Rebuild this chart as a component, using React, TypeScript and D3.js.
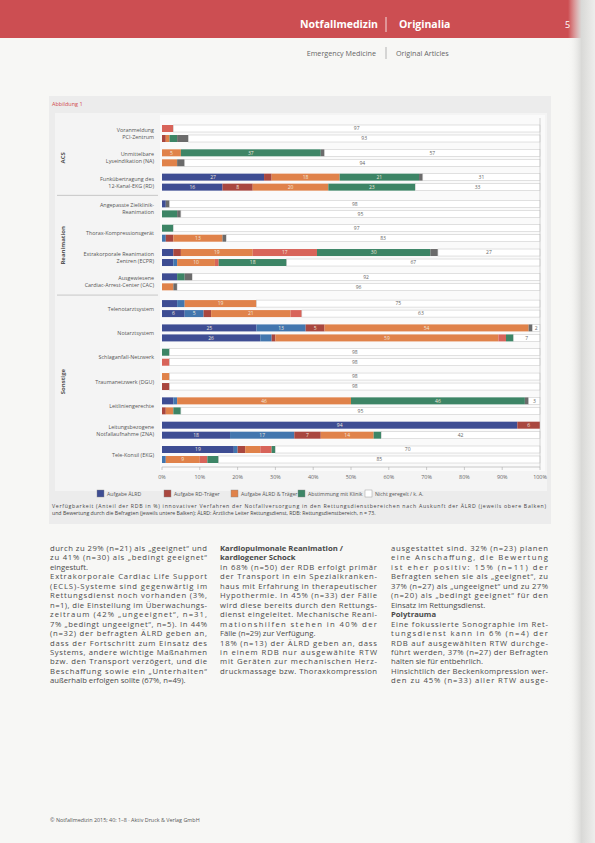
import React from "react";
import * as d3 from "d3";

// ---------- DATA ----------
const groups = ["ACS", "Reanimation", "Sonstige"];
const categories = [
  ["Voranmeldung", "PCI-Zentrum"],
  ["Unmittelbare", "Lyseindikation (NA)"],
  ["Funkübertragung des", "12-Kanal-EKG (RD)"],
  ["Angepasste Zielklinik-", "Reanimation"],
  ["Thorax-Kompressionsgerät"],
  ["Extrakorporale Reanimation", "Zentren (ECPR)"],
  ["Ausgewiesene", "Cardiac-Arrest-Center (CAC)"],
  ["Telenotarztsystem"],
  ["Notarztsystem"],
  ["Schlaganfall-Netzwerk"],
  ["Traumanetzwerk (DGU)"],
  ["Leitliniengerechte"],
  ["Leitungsbezogene", "Notfallaufnahme (ZNA)"],
  ["Tele-Konsil (EKG)"],
];
const categoryGroup = [0, 0, 0, 1, 1, 1, 1, 2, 2, 2, 2, 2, 2, 2];

// bars: two per category (upper, lower)
const seriesKeys = ["s1", "s2", "s3", "s4", "s5", "s6", "s7", "s8"];
const s1 = [0, 0, 0, 0, 27, 16, 1, 0, 0, 0, 3, 3, 4, 0, 4, 6, 25, 26, 0, 0, 0, 0, 3, 0, 94, 18, 19, 0];
const s2 = [0, 0, 0, 0, 0, 0, 0, 0, 0, 1, 0, 1, 0, 0, 2, 5, 13, 3, 0, 0, 0, 0, 1, 0, 0, 17, 1, 1];
const s3 = [0, 1, 0, 0, 2, 8, 0, 0, 0, 2, 2, 0, 0, 0, 0, 2, 5, 1, 0, 0, 0, 2, 0, 1, 6, 7, 2, 0];
const s4 = [0, 1, 5, 4, 18, 20, 0, 0, 0, 13, 19, 10, 0, 3, 19, 21, 54, 59, 0, 0, 2, 0, 46, 2, 0, 14, 4, 9];
const s5 = [3, 0, 0, 0, 0, 0, 0, 0, 0, 0, 17, 1, 0, 0, 0, 3, 0, 2, 0, 2, 0, 0, 0, 0, 0, 0, 3, 2];
const s6 = [0, 2, 37, 0, 21, 23, 0, 4, 3, 0, 30, 18, 2, 0, 0, 0, 0, 2, 2, 0, 0, 0, 46, 2, 0, 2, 1, 3];
const s7 = [0, 3, 1, 2, 1, 0, 1, 1, 0, 1, 2, 0, 2, 1, 0, 0, 1, 0, 0, 0, 0, 0, 1, 0, 0, 0, 0, 0];
const s8 = [97, 93, 57, 94, 31, 33, 98, 95, 97, 83, 27, 67, 92, 96, 75, 63, 2, 7, 98, 98, 98, 98, 3, 95, 0, 42, 70, 85];
const seriesValues = { s1, s2, s3, s4, s5, s6, s7, s8 };

const legendLabels = [
  "Aufgabe ÄLRD",
  "Aufgabe RD-Träger",
  "Aufgabe ÄLRD & Träger",
  "Abstimmung mit Klinik",
  "Nicht geregelt / k. A.",
];
const legendKeys = ["s1", "s3", "s4", "s6", "s8"];
const xTicks = [0, 10, 20, 30, 40, 50, 60, 70, 80, 90, 100];

// ---------- STYLE ----------
const colors = {
  s1: "#3e4d93",
  s2: "#4276ae",
  s3: "#a9473f",
  s4: "#e0824a",
  s5: "#d8645a",
  s6: "#3d8566",
  s7: "#6b6b6b",
  s8: "#ffffff",
};

// body text: [text, isParagraphEnd, bold]
type Line = [string, boolean, boolean];
const col1: Line[] = [
  ["durch zu 29% (n=21) als „geeignet“ und", false, false],
  ["zu 41% (n=30) als „bedingt geeignet“", false, false],
  ["eingestuft.", true, false],
  ["Extrakorporale Cardiac Life Support", false, false],
  ["(ECLS)-Systeme sind gegenwärtig im", false, false],
  ["Rettungsdienst noch vorhanden (3%,", false, false],
  ["n=1), die Einstellung im Überwachungs-", false, false],
  ["zeitraum (42% „ungeeignet“, n=31,", false, false],
  ["7% „bedingt ungeeignet“, n=5). In 44%", false, false],
  ["(n=32) der befragten ÄLRD geben an,", false, false],
  ["dass der Fortschritt zum Einsatz des", false, false],
  ["Systems, andere wichtige Maßnahmen", false, false],
  ["bzw. den Transport verzögert, und die", false, false],
  ["Beschaffung sowie ein „Unterhalten“", false, false],
  ["außerhalb erfolgen sollte (67%, n=49).", true, false],
];
const col2: Line[] = [
  ["Kardiopulmonale Reanimation /", true, true],
  ["kardiogener Schock", true, true],
  ["In 68% (n=50) der RDB erfolgt primär", false, false],
  ["der Transport in ein Spezialkranken-", false, false],
  ["haus mit Erfahrung in therapeutischer", false, false],
  ["Hypothermie. In 45% (n=33) der Fälle", false, false],
  ["wird diese bereits durch den Rettungs-", false, false],
  ["dienst eingeleitet. Mechanische Reani-", false, false],
  ["mationshilfen stehen in 40% der", false, false],
  ["Fälle (n=29) zur Verfügung.", true, false],
  ["18% (n=13) der ÄLRD geben an, dass", false, false],
  ["in einem RDB nur ausgewählte RTW", false, false],
  ["mit Geräten zur mechanischen Herz-", false, false],
  ["druckmassage bzw. Thoraxkompression", false, false],
];
const col3: Line[] = [
  ["ausgestattet sind. 32% (n=23) planen", false, false],
  ["eine Anschaffung, die Bewertung", false, false],
  ["ist eher positiv: 15% (n=11) der", false, false],
  ["Befragten sehen sie als „geeignet“, zu", false, false],
  ["37% (n=27) als „ungeeignet“ und zu 27%", false, false],
  ["(n=20) als „bedingt geeignet“ für den", false, false],
  ["Einsatz im Rettungsdienst.", true, false],
  ["Polytrauma", true, true],
  ["Eine fokussierte Sonographie im Ret-", false, false],
  ["tungsdienst kann in 6% (n=4) der", false, false],
  ["RDB auf ausgewählten RTW durchge-", false, false],
  ["führt werden, 37% (n=27) der Befragten", false, false],
  ["halten sie für entbehrlich.", true, false],
  ["Hinsichtlich der Beckenkompression wer-", false, false],
  ["den zu 45% (n=33) aller RTW ausge-", false, false],
];

export default function App() {
  const W = 595;
  const H = 843;
  const x = d3.scaleLinear().domain([0, 100]).range([162, 540]);
  const slotOf = (i: number) => i + categoryGroup[i] * 0.1;
  const y = d3.scaleLinear().domain([0, 13.2]).range([125, 446]);
  const barH = 7;
  const barGap = 3;

  const nBars = categories.length * 2;
  const barRows = d3.range(nBars).map((b) => {
    const row: any = { bar: b };
    seriesKeys.forEach((k) => (row[k] = (seriesValues as any)[k][b]));
    return row;
  });
  const stacked = d3.stack().keys(seriesKeys)(barRows);
  const barY = (b: number) => {
    const cat = Math.floor(b / 2);
    return y(slotOf(cat)) + (b % 2) * (barH + barGap);
  };

  const font = "'Open Sans', 'DejaVu Sans', sans-serif";
  const bodyFs = 7.7;
  const lh = 9.45;
  const colW = 157;

  const groupRanges = groups.map((g, gi) => {
    const idx = categoryGroup.map((c, i) => (c === gi ? i : -1)).filter((i) => i >= 0);
    return { name: g, first: idx[0], last: idx[idx.length - 1] };
  });

  const renderCol = (lines: Line[], x0: number, key: string) =>
    lines.map(([t, end, bold], i) => (
      <text
        key={key + i}
        x={x0}
        y={551 + i * lh}
        fontSize={bodyFs}
        fill="#4a4a4a"
        fontWeight={bold ? "bold" : "normal"}
        {...(!end ? { textLength: colW, lengthAdjust: "spacing" } : {})}
      >
        {t}
      </text>
    ));

  return (
    <svg
      width={W}
      height={H}
      style={{ position: "absolute", left: 0, top: 0, background: "#f6f6f4" }}
      fontFamily={font}
    >
      <defs>
        <linearGradient id="edge" x1="0" x2="1" y1="0" y2="0">
          <stop offset="0" stopColor="#f6f6f4" stopOpacity="0" />
          <stop offset="0.5" stopColor="#d9d9d7" />
          <stop offset="1" stopColor="#eeeeec" />
        </linearGradient>
      </defs>
      <rect x={0} y={0} width={W} height={H} fill="#f7f7f5" />
      {/* header band */}
      <rect x={0} y={0} width={W} height={38} fill="#cc4e52" />
      <text x={300} y={28} fill="#fff" fontSize={10.5} fontWeight="bold">Notfallmedizin</text>
      <line x1={386} x2={386} y1={17} y2={32} stroke="#fff" strokeWidth={0.8} />
      <text x={399} y={28} fill="#fff" fontSize={10.5} fontWeight="bold">Originalia</text>
      <text x={565} y={28} fill="#fff" fontSize={9}>5</text>
      <text x={376} y={56} fill="#666" fontSize={7.2} textAnchor="end">Emergency Medicine</text>
      <line x1={386} x2={386} y1={47} y2={59} stroke="#888" strokeWidth={0.6} />
      <text x={396} y={56} fill="#666" fontSize={7.2}>Original Articles</text>

      {/* figure box */}
      <rect x={49} y={96} width={502} height={428} fill="#ececec" />
      <text x={52} y={106} fill="#d1494c" fontSize={5.5}>Abbildung 1</text>
      <rect x={55} y={113} width={492} height={378} fill="#f4f4f4" />
      <rect x={160} y={115} width={385} height={356} fill="#fafafa" />

      {/* group labels and separators */}
      {groupRanges.map((g, gi) => {
        const top = y(slotOf(g.first)) - 4;
        const bot = y(slotOf(g.last)) + 2 * barH + barGap + 4;
        const mid = (top + bot) / 2;
        return (
          <g key={g.name}>
            <text
              transform={`translate(65,${mid}) rotate(-90)`}
              textAnchor="middle"
              fontSize={6}
              fontWeight="bold"
              fill="#555"
            >
              {g.name}
            </text>
            {gi > 0 && (
              <line x1={57} x2={158} y1={top - 1} y2={top - 1} stroke="#aaa" strokeWidth={0.6} />
            )}
          </g>
        );
      })}

      {/* category labels */}
      {categories.map((lines, i) => {
        const cy = y(slotOf(i)) + barH + barGap / 2;
        const start = cy - ((lines.length - 1) * 6.8) / 2 + 2;
        return (
          <text key={i} x={154} fontSize={5.4} fill="#555" textAnchor="end">
            {lines.map((l, j) => (
              <tspan key={j} x={154} y={start + j * 6.8}>
                {l}
              </tspan>
            ))}
          </text>
        );
      })}

      {/* bars */}
      {stacked.map((layer) => (
        <g key={layer.key}>
          {layer.map((d, b) => {
            const w = x(d[1]) - x(d[0]);
            if (w <= 0) return null;
            const isWhite = layer.key === "s8";
            const val = d[1] - d[0];
            return (
              <g key={b}>
                <rect
                  x={x(d[0])}
                  y={barY(b)}
                  width={w}
                  height={barH}
                  fill={(colors as any)[layer.key]}
                  stroke={isWhite ? "#c4c4c4" : "none"}
                  strokeWidth={isWhite ? 0.5 : 0}
                />
                {((isWhite && val >= 2) || (!isWhite && val >= 5)) && (
                  <text
                    x={(x(d[0]) + x(d[1])) / 2}
                    y={barY(b) + barH - 1.6}
                    fontSize={5}
                    textAnchor="middle"
                    fill={isWhite ? "#666" : "#f1e6dc"}
                  >
                    {val}
                  </text>
                )}
              </g>
            );
          })}
        </g>
      ))}

      {/* axis */}
      <line x1={x(0)} x2={x(100)} y1={467} y2={467} stroke="#aaa" strokeWidth={0.6} />
      <line x1={x(100)} x2={x(100)} y1={118} y2={467} stroke="#bbb" strokeWidth={0.6} />
      {xTicks.map((t) => (
        <g key={t}>
          <line x1={x(t)} x2={x(t)} y1={467} y2={470} stroke="#aaa" strokeWidth={0.6} />
          <text x={x(t)} y={479} fontSize={5.4} textAnchor="middle" fill="#666">
            {t}%
          </text>
        </g>
      ))}

      {/* legend */}
      {legendLabels.map((l, i) => {
        const lx = 97 + i * 67;
        return (
          <g key={l}>
            <rect
              x={lx}
              y={490}
              width={7}
              height={7}
              fill={(colors as any)[legendKeys[i]]}
              stroke="#888"
              strokeWidth={0.4}
            />
            <text x={lx + 10} y={496} fontSize={5.2} fill="#555">
              {l}
            </text>
          </g>
        );
      })}

      {/* caption */}
      <text x={52} y={508} fontSize={5.2} fill="#444" textLength={494} lengthAdjust="spacing">
        Verfügbarkeit (Anteil der RDB in %) innovativer Verfahren der Notfallversorgung in den Rettungsdienstbereichen nach Auskunft der ÄLRD (jeweils obere Balken)
      </text>
      <text x={52} y={515} fontSize={5.2} fill="#444">
        und Bewertung durch die Befragten (jeweils untere Balken); ÄLRD: Ärztliche Leiter Rettungsdienst, RDB: Rettungsdienstbereich, n = 73.
      </text>

      {/* body text */}
      {renderCol(col1, 50, "a")}
      {renderCol(col2, 220, "b")}
      {renderCol(col3, 391, "c")}

      <text x={50} y={822} fontSize={5.4} fill="#555">
        © Notfallmedizin 2015; 40: 1–8 · Aktiv Druck &amp; Verlag GmbH
      </text>
      <rect x={568} y={0} width={27} height={H} fill="url(#edge)" />
    </svg>
  );
}
